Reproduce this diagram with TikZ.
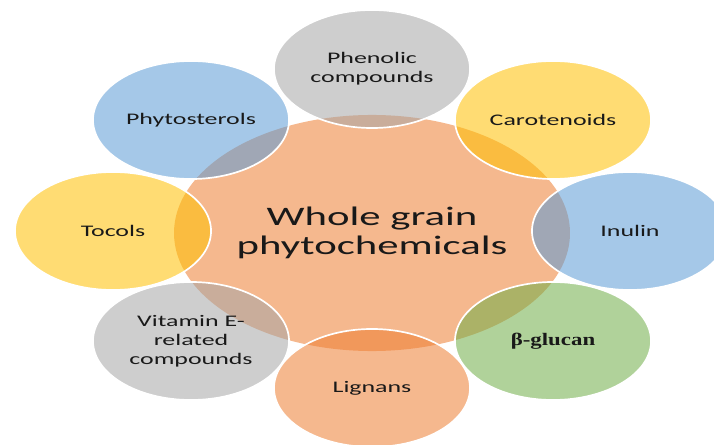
\documentclass[tikz,border=0pt]{standalone}
\usepackage{fontspec}
\setmainfont{Carlito}[FakeStretch=1.6]
\newfontfamily\greekfont{Liberation Serif}[FakeStretch=1.3]
\usetikzlibrary{shapes.geometric}
\definecolor{accorange}{HTML}{ED7D31}
\definecolor{accgray}{HTML}{A5A5A5}
\definecolor{accyellow}{HTML}{FFC000}
\definecolor{accblue}{HTML}{5B9BD5}
\definecolor{accgreen}{HTML}{70AD47}
\begin{document}
\begin{tikzpicture}[x=0.025cm,y=-0.025cm,
  every node/.style={font=\fontsize{11.5}{13.5}\selectfont,text=black!90,align=center},
  item/.style={ellipse,draw=white,line width=1.2pt,fill opacity=0.55,text opacity=1,
    minimum width=4.9cm,minimum height=2.95cm,inner sep=0pt}]
  \useasboundingbox (0,0) rectangle (714,445);
  \clip (0,0) rectangle (714,445);
  % centre
  \node[ellipse,fill=accorange,fill opacity=0.55,text opacity=1,minimum width=9.75cm,
    minimum height=5.9cm,font=\fontsize{19}{21}\selectfont] (hub) at (372,233)
    {Whole grain\\phytochemicals};
  % ring of classes
  \node[item,fill=accgray] (phen) at (372,69) {Phenolic\\compounds};
  \node[item,fill=accyellow] (carot) at (553,120) {Carotenoids};
  \node[item,fill=accblue] (inul) at (630,231) {Inulin};
  \node[item,fill=accgreen] (gluc) at (553,341) {\greekfont\bfseries\fontsize{12.5}{14}\selectfont β-glucan};
  \node[item,fill=accorange] (lign) at (372,388) {Lignans};
  \node[item,fill=accgray] (vite) at (191,341) {Vitamin E-\\related\\compounds};
  \node[item,fill=accyellow] (toco) at (113,231) {Tocols};
  \node[item,fill=accblue] (phyt) at (191,120) {Phytosterols};
\end{tikzpicture}
\end{document}
